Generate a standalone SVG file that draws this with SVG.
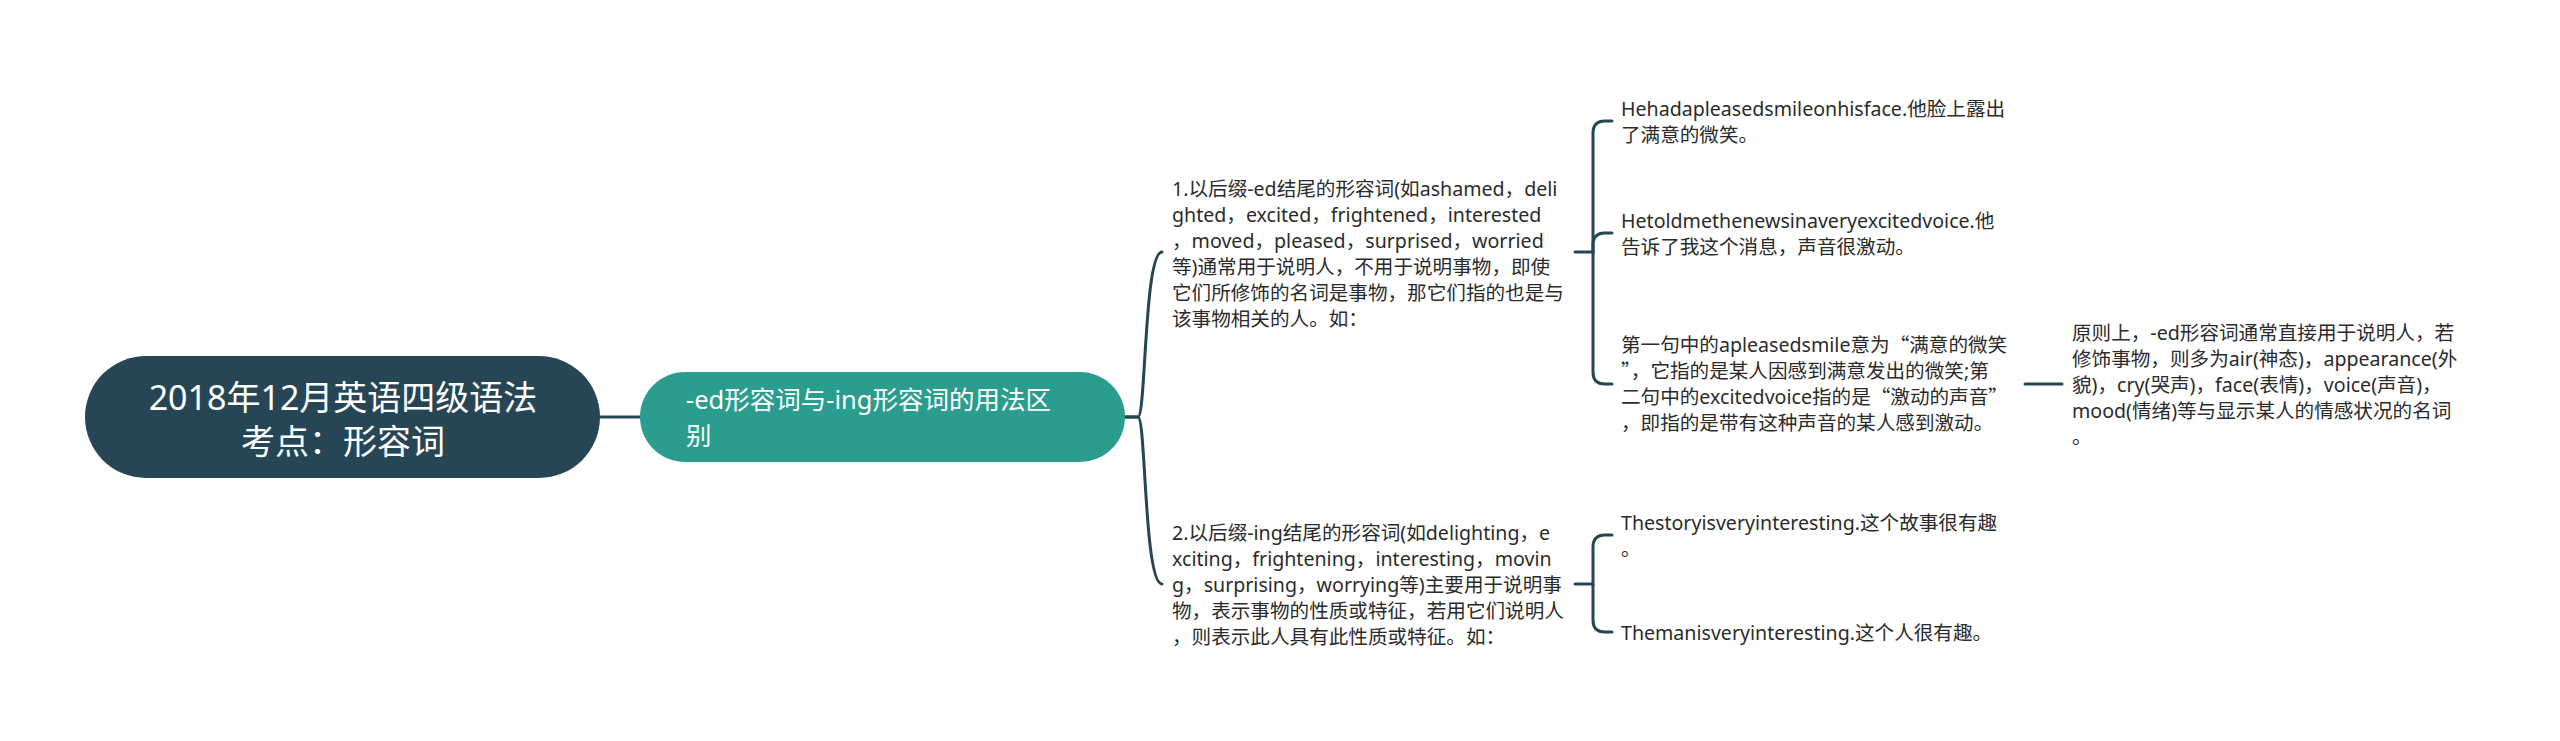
<svg xmlns="http://www.w3.org/2000/svg" width="2560" height="741" viewBox="0 0 2560 741">
<style>
.t{font-family:"Noto Sans","Noto Sans CJK SC",sans-serif;font-size:19.6px;fill:#2b2b2b}
.w{font-family:"Noto Sans","Noto Sans CJK SC",sans-serif;fill:#ffffff}
.q{font-family:"Noto Sans CJK SC",sans-serif}
.c{fill:none;stroke:#264653;stroke-width:3;stroke-linecap:round}
</style>
<rect width="2560" height="741" fill="#ffffff"/>
<g id="connectors">
<path class="c" d="M600,417 H640"/>
<path class="c" d="M1125,417 H1138 C1146,417 1144,252 1162,252"/>
<path class="c" d="M1125,417 H1138 C1146,417 1144,584 1162,584"/>
<path class="c" d="M1575,252 H1593 V133 Q1593,121 1605,121 H1612"/>
<path class="c" d="M1593,252 V245 Q1593,233 1605,233 H1612"/>
<path class="c" d="M1593,252 V372 Q1593,384 1605,384 H1612"/>
<path class="c" d="M1575,584 H1593 V547 Q1593,535 1605,535 H1612"/>
<path class="c" d="M1593,584 V620 Q1593,632 1605,632 H1612"/>
<path class="c" d="M2025,384 H2062"/>
</g>
<g id="root">
<rect x="85" y="356" width="515" height="122" rx="61" fill="#274655"/>
<text class="w" font-size="34" text-anchor="middle" x="343" y="410">2018年12月英语四级语法</text>
<text class="w" font-size="34" text-anchor="middle" x="343" y="454">考点：形容词</text>
</g>
<g id="node2">
<rect x="640" y="372" width="485" height="90" rx="45" fill="#2a9d8e"/>
<text class="w" font-size="25.5" x="686" y="409">-ed形容词与-ing形容词的用法区</text>
<text class="w" font-size="25.5" x="686" y="445">别</text>
</g>
<g id="node3">
<text class="t" x="1172" y="195.5">1.以后缀-ed结尾的形容词(如ashamed，deli</text>
<text class="t" x="1172" y="221.5">ghted，excited，frightened，interested</text>
<text class="t" x="1172" y="247.5">，moved，pleased，surprised，worried</text>
<text class="t" x="1172" y="273.5">等)通常用于说明人，不用于说明事物，即使</text>
<text class="t" x="1172" y="299.5">它们所修饰的名词是事物，那它们指的也是与</text>
<text class="t" x="1172" y="325.5">该事物相关的人。如：</text>
</g>
<g id="node4">
<text class="t" x="1172" y="539.5">2.以后缀-ing结尾的形容词(如delighting，e</text>
<text class="t" x="1172" y="565.5">xciting，frightening，interesting，movin</text>
<text class="t" x="1172" y="591.5">g，surprising，worrying等)主要用于说明事</text>
<text class="t" x="1172" y="617.5">物，表示事物的性质或特征，若用它们说明人</text>
<text class="t" x="1172" y="643.5">，则表示此人具有此性质或特征。如：</text>
</g>
<g id="node5">
<text class="t" x="1621" y="115.5">Hehadapleasedsmileonhisface.他脸上露出</text>
<text class="t" x="1621" y="141.5">了满意的微笑。</text>
</g>
<g id="node6">
<text class="t" x="1621" y="227.5">Hetoldmethenewsinaveryexcitedvoice.他</text>
<text class="t" x="1621" y="253.5">告诉了我这个消息，声音很激动。</text>
</g>
<g id="node7">
<text class="t" x="1621" y="351.5">第一句中的apleasedsmile意为<tspan class="q">“</tspan>满意的微笑</text>
<text class="t" x="1621" y="377.5"><tspan class="q">”</tspan>，它指的是某人因感到满意发出的微笑;第</text>
<text class="t" x="1621" y="403.5">二句中的excitedvoice指的是<tspan class="q">“</tspan>激动的声音<tspan class="q">”</tspan></text>
<text class="t" x="1621" y="429.5">，即指的是带有这种声音的某人感到激动。</text>
</g>
<g id="node8">
<text class="t" x="2072" y="339.5">原则上，-ed形容词通常直接用于说明人，若</text>
<text class="t" x="2072" y="365.5">修饰事物，则多为air(神态)，appearance(外</text>
<text class="t" x="2072" y="391.5">貌)，cry(哭声)，face(表情)，voice(声音)，</text>
<text class="t" x="2072" y="417.5">mood(情绪)等与显示某人的情感状况的名词</text>
<text class="t" x="2072" y="443.5">。</text>
</g>
<g id="node9">
<text class="t" x="1621" y="529.5">Thestoryisveryinteresting.这个故事很有趣</text>
<text class="t" x="1621" y="555.5">。</text>
</g>
<g id="node10">
<text class="t" x="1621" y="639.5">Themanisveryinteresting.这个人很有趣。</text>
</g>
</svg>
